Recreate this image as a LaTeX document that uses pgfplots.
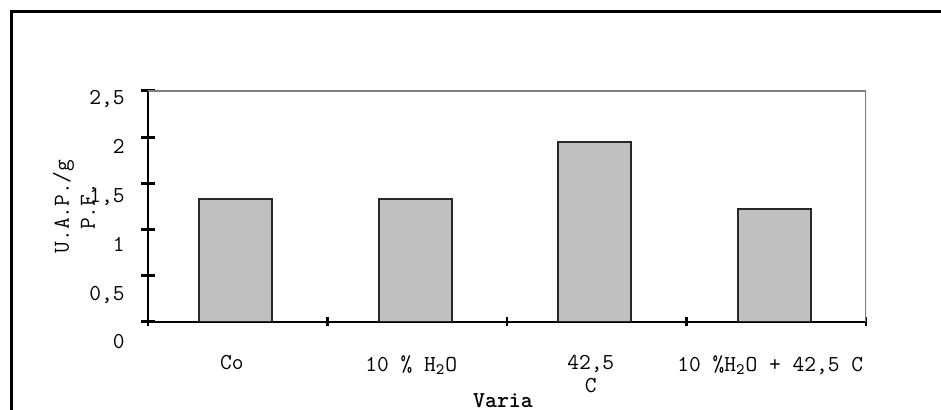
\documentclass[border=0pt]{standalone}
\usepackage{pgfplots}
\pgfplotsset{compat=1.18}
\definecolor{barfill}{RGB}{192,192,192}
\definecolor{baredge}{RGB}{40,40,40}
\definecolor{frameg}{RGB}{128,128,128}
\definecolor{lav}{RGB}{200,200,240}
\newcommand{\chfont}{\fontsize{11.4}{13.5}\selectfont\ttfamily}
\begin{document}
\begin{tikzpicture}
\useasboundingbox (-74pt,-44pt) rectangle (396.5pt,161pt);
\draw[line width=1.25pt] (-68.25pt,-60pt) -- (-68.25pt,155.25pt) -- (420pt,155.25pt);
\begin{axis}[
  at={(0pt,0pt)}, anchor=south west,
  scale only axis, width=359pt, height=115.5pt,
  xmin=-0.5, xmax=3.5, ymin=0, ymax=2.5,
  axis x line*=bottom, axis y line*=left,
  axis line style={black, line width=0.6pt},
  ybar, bar width=36.5pt, bar shift=-1pt,
  xtick={-0.5,0.5,1.5,2.5,3.5},
  x tick label as interval,
  xticklabels={{Co}, {10 \% H\textsubscript{2}O}, {42,5\\[-2pt]C}, {10 \%H\textsubscript{2}O + 42,5 C}},
  xticklabel style={font=\chfont, anchor=north, inner sep=0pt, yshift=-14.5pt, xshift=-3pt, align=center},
  xtick style={black, line width=1.2pt, /pgfplots/major tick length=4.5pt},
  ytick={0,0.5,1,1.5,2,2.5},
  yticklabels={},
  ytick style={black, line width=1.5pt, /pgfplots/major tick length=7pt},
  tick align=center,
  xlabel={\bfseries Varia},
  xlabel style={at={([xshift=-2pt,yshift=-39.5pt]rel axis cs:0.5,0)}, anchor=center, inner sep=0pt, font=\chfont},
  ylabel={U.A.P./g\\[2pt]P.F.},
  ylabel style={at={([xshift=-37pt]rel axis cs:0,0.5)}, anchor=center, align=center, font=\fontsize{11.4}{11}\selectfont\ttfamily},
]
\addplot[fill=barfill, draw=baredge, line width=0.9pt] coordinates {(0,1.334) (1,1.331) (2,1.951) (3,1.22)};
\draw[lav, line width=0.6pt] ([xshift=-0.9pt]rel axis cs:0,0) -- ([xshift=-0.9pt]rel axis cs:0,1);
\draw[frameg, line width=1.5pt] (rel axis cs:0,1) -- (rel axis cs:1,1) -- (rel axis cs:1,0);
\end{axis}
\begin{axis}[
  at={(0pt,-10pt)}, anchor=south west,
  scale only axis, width=359pt, height=122pt,
  xmin=0, xmax=1, ymin=0, ymax=2.5,
  hide x axis,
  axis y line*=left,
  axis line style={draw=none},
  ytick={0,0.5,1,1.5,2,2.5},
  yticklabels={0,{0,5},1,{1,5},2,{2,5}},
  major tick length=0pt,
  ytick style={draw=none},
  yticklabel style={font=\chfont, anchor=base east, inner sep=0pt, xshift=-11.5pt, yshift=-3.5pt},
]
\addplot[draw=none] coordinates {(0,0)};
\end{axis}
\end{tikzpicture}
\end{document}
